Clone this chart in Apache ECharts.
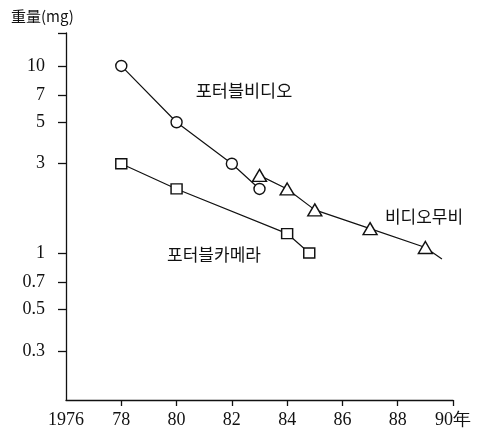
<!DOCTYPE html>
<html>
<head>
<meta charset="utf-8">
<script src="https://cdn.jsdelivr.net/npm/echarts@6/dist/echarts.min.js"></script>
<style>
  html, body { margin: 0; padding: 0; background: #fff; }
  #chart { width: 478px; height: 431px; }
</style>
</head>
<body>
<div id="chart"></div>
<script>
// Weight (mg) by year, logarithmic scale
const portableVideo = [[1978, 10], [1980, 5], [1982, 3], [1983, 2.2]];
const videoMovie = [[1983, 2.6], [1984, 2.2], [1985, 1.7], [1987, 1.35], [1989, 1.07]];
const videoMovieTrendEnd = [1989.6, 0.93];
const portableCamera = [[1978, 3], [1980, 2.2], [1984, 1.27], [1984.8, 1.0]];

const yTickValues = [0.3, 0.5, 0.7, 1, 3, 5, 7, 10];
const yTickLabels = ['0.3', '0.5', '0.7', '1', '3', '5', '7', '10'];
const xTickValues = [1976, 1978, 1980, 1982, 1984, 1986, 1988, 1990];
const xTickLabels = ['1976', '78', '80', '82', '84', '86', '88', '90年'];

const seriesNames = ['포터블비디오', '비디오무비', '포터블카메라'];
const yAxisTitle = '重量(mg)';

const ink = '#111';
const numFont = '"Liberation Serif", "DejaVu Serif", serif';
const krFont = '"Noto Sans CJK KR", "Noto Sans CJK SC", sans-serif';

const chart = echarts.init(document.getElementById('chart'), null, { renderer: 'canvas' });

const markerStyle = { color: '#fff', borderColor: ink, borderWidth: 1.4 };
const lineStyle = { color: ink, width: 1.2 };

chart.setOption({
  animation: false,
  backgroundColor: '#fff',
  grid: { left: 66, right: 25, top: 33, bottom: 31, containLabel: false },
  xAxis: {
    type: 'value',
    min: 1976,
    max: 1990,
    interval: 2,
    axisLine: { show: true, lineStyle: { color: ink, width: 1.3 } },
    axisTick: {
      show: true, length: 6, inside: false,
      customValues: xTickValues.slice(1),
      lineStyle: { color: ink, width: 1.3 }
    },
    axisLabel: {
      margin: 11,
      color: ink,
      fontFamily: numFont,
      fontSize: 18,
      formatter: v => {
        const i = xTickValues.indexOf(Math.round(v));
        return i >= 0 ? xTickLabels[i] : '';
      }
    },
    splitLine: { show: false }
  },
  yAxis: {
    type: 'log',
    logBase: 10,
    min: 0.1637,
    max: 15,
    axisLine: { show: true, lineStyle: { color: ink, width: 1.3 } },
    axisTick: {
      show: true, length: 8, inside: false,
      customValues: yTickValues.concat([14.99]),
      lineStyle: { color: ink, width: 1.3 }
    },
    axisLabel: {
      margin: 21,
      color: ink,
      fontFamily: numFont,
      fontSize: 18,
      customValues: yTickValues,
      formatter: v => {
        let best = -1, bd = Infinity;
        yTickValues.forEach((t, i) => {
          const d = Math.abs(Math.log(t) - Math.log(v));
          if (d < bd) { bd = d; best = i; }
        });
        return bd < 0.01 ? yTickLabels[best] : '';
      }
    },
    splitLine: { show: false },
    minorTick: { show: false }
  },
  series: [
    {
      name: seriesNames[0],
      type: 'line',
      data: portableVideo,
      symbol: 'circle',
      symbolSize: 11,
      showAllSymbol: true,
      lineStyle: lineStyle,
      itemStyle: markerStyle,
      z: 3
    },
    {
      name: seriesNames[1],
      type: 'line',
      data: videoMovie.map(p => ({ value: p })).concat([{ value: videoMovieTrendEnd, symbol: 'none' }]),
      symbol: 'triangle',
      symbolSize: [14, 12],
      showAllSymbol: true,
      lineStyle: lineStyle,
      itemStyle: markerStyle,
      z: 4
    },
    {
      name: seriesNames[2],
      type: 'line',
      data: portableCamera,
      symbol: 'rect',
      symbolSize: [11, 10],
      showAllSymbol: true,
      lineStyle: lineStyle,
      itemStyle: markerStyle,
      z: 3
    }
  ],
  graphic: [
    {
      type: 'text', left: 11, top: 9,
      style: { text: yAxisTitle, fill: ink, font: '15px ' + krFont }
    },
    {
      type: 'text', x: 244, y: 90,
      style: { text: seriesNames[0], fill: ink, font: '17.5px ' + krFont, textAlign: 'center', textVerticalAlign: 'middle' }
    },
    {
      type: 'text', x: 424, y: 217,
      style: { text: seriesNames[1], fill: ink, font: '17px ' + krFont, textAlign: 'center', textVerticalAlign: 'middle' }
    },
    {
      type: 'text', x: 214, y: 255,
      style: { text: seriesNames[2], fill: ink, font: '17px ' + krFont, textAlign: 'center', textVerticalAlign: 'middle' }
    }
  ]
});
</script>
</body>
</html>
